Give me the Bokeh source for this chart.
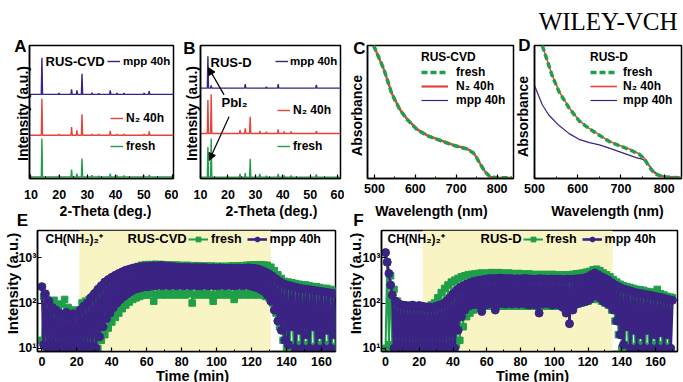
from bokeh.plotting import figure
from bokeh.layouts import row, column
from bokeh.models import (Range1d, FixedTicker, SingleIntervalTicker, Label, Legend, GridBox,
                          LegendItem, Arrow, NormalHead, BoxAnnotation, CustomJSTickFormatter)
from bokeh.embed import file_html
from bokeh.resources import INLINE

FONT = "Liberation Sans"
PURPLE = "#3a2383"
RED = "#e6433a"
GREEN = "#1f9f49"
YELLOW = "#f8f4c3"

# ---------------- XRD patterns (2-theta in degrees, intensity in a.u.) ----------------
peaks_cvd = [13.9, 19.9, 24.4, 26.3, 28.1, 31.6, 34.0, 38.1, 40.5, 43.0, 50.1, 51.9]
cvd_fresh = [115, 3, 22, 10, 55, 5, 3, 10, 4, 4, 3, 6]
cvd_n2 = [110, 4, 25, 15, 63, 4, 4, 13, 4, 4, 4, 12]
cvd_mpp = [110, 4, 15, 12, 62, 5, 3, 12, 4, 4, 4, 10]

peaks_d = [12.7, 13.9, 24.4, 26.3, 28.1, 31.6, 34.0, 38.3, 40.5, 43.0, 52.2]
d_fresh = [90, 115, 10, 12, 55, 10, 4, 10, 5, 5, 8]
d_n2 = [100, 117, 10, 15, 50, 8, 5, 12, 6, 6, 8]
d_mpp = [95, 8, 0, 12, 0, 0, 4, 12, 0, 0, 10]

# ---------------- UV-vis absorbance (wavelength nm, normalised absorbance) ----------------
c_wl = [498, 523, 543, 563, 580, 604, 629, 661, 693, 726, 742, 750, 759, 771, 783, 807, 836]
c_fresh = [1.0, 0.82, 0.63, 0.51, 0.44, 0.366, 0.318, 0.282, 0.246, 0.218, 0.187, 0.151, 0.103, 0.043, 0.007, 0.0, 0.0]
c_n2 = [1.0, 0.82, 0.635, 0.515, 0.445, 0.37, 0.322, 0.285, 0.25, 0.222, 0.19, 0.153, 0.104, 0.044, 0.008, 0.0, 0.0]
c_mpp = [1.0, 0.818, 0.628, 0.508, 0.438, 0.364, 0.316, 0.28, 0.244, 0.216, 0.185, 0.15, 0.102, 0.043, 0.007, 0.0, 0.0]

d_wl = [518, 541, 557, 580, 603, 627, 650, 673, 697, 720, 743, 755, 766, 778, 798, 843]
d_fresh_abs = [1.0, 0.77, 0.649, 0.528, 0.431, 0.37, 0.322, 0.274, 0.242, 0.213, 0.177, 0.14, 0.08, 0.031, 0.007, 0.0]
d_n2_abs = [1.0, 0.775, 0.652, 0.53, 0.435, 0.372, 0.325, 0.276, 0.245, 0.216, 0.18, 0.145, 0.085, 0.034, 0.009, 0.004]
d_mpp_wl = [500, 518, 533, 557, 580, 603, 627, 650, 673, 704, 735, 751, 766, 778, 790, 805, 843]
d_mpp_abs = [0.697, 0.552, 0.475, 0.395, 0.334, 0.291, 0.266, 0.249, 0.225, 0.189, 0.153, 0.14, 0.092, 0.044, 0.019, 0.007, 0.0]

# ---------------- ToF-SIMS CH(NH2)2+ depth profiles (counts vs time, min) ----------------
time_min = list(range(171))
e_fresh = [
    15, 140, 11, 120, 10, 105, 12, 115, 10, 90,
    12, 95, 10, 120, 11, 80, 10, 62, 12, 70,
    10, 65, 12, 100, 10, 110, 12, 120, 10, 140,
    12, 170, 10, 210, 15, 250, 20, 290, 28, 330,
    38, 370, 48, 410, 60, 450, 75, 490, 90, 530,
    105, 560, 120, 600, 130, 640, 140, 680, 150, 700,
    150, 710, 160, 700, 110, 720, 150, 700, 160, 710,
    150, 690, 160, 700, 150, 680, 160, 690, 150, 680,
    160, 670, 150, 680, 160, 670, 100, 660, 150, 670,
    160, 660, 150, 650, 160, 660, 150, 650, 110, 650,
    150, 640, 160, 650, 150, 640, 160, 650, 150, 660,
    120, 650, 160, 660, 150, 670, 160, 680, 150, 690,
    160, 700, 150, 690, 160, 700, 150, 690, 140, 680,
    130, 620, 100, 520, 60, 420, 30, 350, 15, 300,
    10, 290, 12, 280, 10, 270, 12, 260, 10, 250,
    12, 250, 10, 240, 11, 230, 10, 230, 12, 220,
    10, 210, 12, 210, 10, 200, 11, 190, 10, 180,
    170]
e_mpp = [
    230, 12, 160, 10, 110, 14, 80, 10, 70, 12,
    60, 10, 55, 13, 62, 10, 50, 12, 58, 10,
    55, 14, 70, 10, 85, 12, 100, 10, 130, 11,
    160, 10, 200, 18, 240, 30, 290, 45, 330, 60,
    370, 80, 410, 100, 450, 120, 490, 140, 530, 160,
    560, 180, 590, 200, 610, 210, 630, 220, 640, 230,
    650, 230, 660, 240, 670, 240, 660, 250, 680, 240,
    660, 250, 650, 240, 640, 250, 630, 240, 620, 250,
    610, 240, 620, 250, 610, 240, 600, 250, 610, 240,
    600, 240, 610, 250, 600, 240, 590, 250, 600, 240,
    590, 240, 600, 250, 590, 240, 580, 250, 590, 240,
    580, 240, 590, 250, 580, 240, 590, 250, 600, 240,
    590, 230, 580, 220, 560, 200, 520, 180, 480, 150,
    440, 110, 390, 70, 340, 40, 300, 25, 270, 15,
    250, 12, 240, 30, 230, 10, 220, 25, 210, 10,
    205, 20, 200, 10, 195, 30, 190, 10, 185, 20,
    180, 10, 175, 25, 170, 10, 165, 20, 160, 10,
    150]
f_fresh = [
    10, 800, 12, 400, 10, 200, 12, 110, 10, 90,
    12, 88, 10, 85, 12, 90, 10, 85, 12, 88,
    10, 85, 12, 82, 10, 85, 12, 90, 10, 100,
    12, 130, 10, 170, 12, 210, 10, 250, 12, 290,
    10, 320, 12, 350, 15, 380, 30, 400, 50, 420,
    60, 430, 70, 440, 75, 450, 80, 460, 85, 450,
    90, 460, 85, 470, 90, 460, 85, 470, 90, 460,
    85, 450, 90, 460, 85, 450, 90, 440, 85, 450,
    90, 440, 85, 430, 90, 440, 85, 430, 90, 420,
    85, 430, 90, 420, 85, 430, 90, 420, 85, 430,
    90, 420, 85, 410, 90, 420, 85, 410, 90, 420,
    85, 430, 90, 440, 95, 450, 100, 460, 105, 480,
    110, 500, 120, 540, 130, 560, 120, 520, 110, 460,
    100, 420, 90, 380, 70, 330, 40, 290, 20, 260,
    10, 240, 12, 230, 10, 220, 11, 210, 10, 200,
    12, 195, 10, 190, 11, 180, 10, 175, 12, 170,
    10, 200, 12, 160, 10, 150, 11, 140, 10, 135,
    130]
f_mpp = [
    1300, 800, 450, 250, 150, 10, 110, 12, 95, 10,
    90, 12, 88, 10, 85, 11, 90, 10, 85, 12,
    88, 10, 85, 12, 80, 10, 82, 12, 78, 10,
    85, 12, 90, 10, 95, 11, 110, 10, 130, 12,
    160, 10, 190, 25, 220, 50, 240, 70, 260, 85,
    280, 90, 300, 95, 310, 90, 320, 65, 330, 90,
    340, 95, 350, 100, 345, 70, 350, 95, 355, 100,
    350, 95, 345, 100, 350, 95, 340, 100, 345, 95,
    340, 100, 350, 95, 345, 90, 340, 95, 335, 90,
    340, 60, 345, 95, 340, 100, 335, 95, 340, 90,
    335, 95, 340, 90, 335, 80, 330, 60, 340, 35,
    335, 70, 340, 95, 345, 100, 350, 105, 360, 110,
    380, 120, 420, 140, 460, 150, 420, 130, 380, 110,
    350, 100, 320, 90, 280, 70, 250, 40, 230, 20,
    210, 12, 200, 30, 190, 10, 180, 25, 170, 10,
    165, 20, 160, 10, 155, 25, 150, 10, 145, 20,
    140, 10, 135, 22, 130, 10, 125, 20, 120, 10,
    115]
sputter_window_e = (21.5, 131.0)
sputter_window_f = (22.0, 134.5)

# panel letters and axis titles, positioned on a page-sized overlay (pixels)
panel_letters = ["A", "B", "C", "D", "E", "F"]
letter_x = [20, 189, 359, 524, 22, 358]
letter_y = [46, 48, 48, 45, 220, 220]

x_titles = ["2-Theta (deg.)", "2-Theta (deg.)", "Wavelength (nm)", "Wavelength (nm)",
            "Time (min)", "Time (min)"]
x_title_x = [105, 271, 431, 607, 192, 532]
x_title_y = [210, 210, 210, 210, 375, 375]
x_title_size = ["14px", "14px", "14px", "14px", "14.5px", "14.5px"]

y_titles = ["Intensity (a.u.)", "Intensity (a.u.)", "Absorbance", "Absorbance",
            "Intensity (a.u.)", "Intensity (a.u.)"]
y_title_x = [22, 191, 356, 522, 12, 355]
y_title_y = [113, 113, 115, 116, 283, 283]
y_title_size = ["14px", "14px", "14px", "14px", "15px", "15px"]


def stick_pattern(pos, hts, base, lo, hi, half=0.22):
    """Baseline with narrow triangular reflections on top of it."""
    xs, ys = [lo], [base]
    for p, h in sorted(zip(pos, hts)):
        if h <= 0:
            continue
        xs += [p - half, p, p + half]
        ys += [base, base + h, base]
    xs.append(hi)
    ys.append(base)
    return xs, ys


def panel(width, height, left, right, top, bottom, x_range, y_range, y_log=False):
    p = figure(width=width, height=height, x_range=x_range, y_range=y_range,
               y_axis_type="log" if y_log else "linear",
               output_backend="svg", toolbar_location=None,
               min_border_left=left, min_border_right=right,
               min_border_top=top, min_border_bottom=bottom)
    p.xgrid.visible = False
    p.ygrid.visible = False
    p.outline_line_color = "black"
    p.outline_line_width = 1.5
    p.outline_line_alpha = 1
    for ax in (p.xaxis[0], p.yaxis[0]):
        ax.axis_line_width = 1.5
        ax.major_tick_in = 4
        ax.major_tick_out = 0
        ax.minor_tick_in = 2
        ax.minor_tick_out = 0
        ax.major_tick_line_width = 1.2
        ax.major_label_text_font = FONT
        ax.major_label_text_font_style = "bold"
        ax.major_label_text_font_size = "12.5px"
        ax.major_label_text_color = "black"
        ax.major_label_standoff = 3
    return p


def text(p, x, y, s, size="12px", align="left", font=FONT, style="bold", baseline="middle",
         units="screen", angle=0):
    p.add_layout(Label(x=x, y=y, x_units=units, y_units=units, text=s, angle=angle,
                       angle_units="deg",
                       text_font=font, text_font_style=style, text_font_size=size,
                       text_align=align, text_baseline=baseline, text_color="black"))


def legend_box(p, items, loc, glyph_width=13, title=None, orientation="vertical",
               size="12px", standoff=3, spacing=0):
    lg = Legend(items=items, location=loc, orientation=orientation,
                glyph_width=glyph_width, glyph_height=12, label_height=12,
                label_standoff=standoff, spacing=spacing, padding=0, margin=0,
                background_fill_alpha=0, border_line_alpha=0,
                label_text_font=FONT, label_text_font_style="bold",
                label_text_font_size=size, label_text_color="black")
    if title:
        lg.title = title
        lg.title_text_font = FONT
        lg.title_text_font_style = "bold"
        lg.title_text_font_size = size
        lg.title_text_color = "black"
        lg.title_standoff = 1
    p.add_layout(lg)
    return lg


def xrd_panel(width, left, right, xr, yr, peaks, series):
    p = panel(width, 218, left, right, 45, 40, xr, yr)
    p.xaxis.ticker = SingleIntervalTicker(interval=10, num_minor_ticks=2)
    p.yaxis.ticker = FixedTicker(ticks=[])
    p.xaxis.major_label_standoff = 11
    renderers = []
    for hts, base, color in series:
        xs, ys = stick_pattern(peaks, hts, base, xr.start, xr.end)
        renderers.append(p.line(xs, ys, line_color=color, line_width=1.4))
    return p, renderers


# ---------------- Panel A ----------------
xrA = Range1d(9.5, 60.5)
pA, (rA_f, rA_n, rA_m) = xrd_panel(178, 29, 5, xrA, Range1d(0, 400), peaks_cvd,
                                   [(cvd_fresh, 5, GREEN), (cvd_n2, 130, RED), (cvd_mpp, 253, PURPLE)])
text(pA, 16, 117, "RUS-CVD", size="13px")
legend_box(pA, [LegendItem(label="mpp 40h", renderers=[rA_m])], (78, 111), size="11.5px")
legend_box(pA, [LegendItem(label="N₂ 40h", renderers=[rA_n])], (81, 53))
legend_box(pA, [LegendItem(label="fresh", renderers=[rA_f])], (81, 25))

# ---------------- Panel B ----------------
xrB = Range1d(10.0, 61.0)
pB, (rB_f, rB_n, rB_m) = xrd_panel(166, 22, 4, xrB, Range1d(0, 396), peaks_d,
                                   [(d_fresh, 4, GREEN), (d_n2, 134, RED), (d_mpp, 269, PURPLE)])
text(pB, 10, 116, "RUS-D", size="13px")
legend_box(pB, [LegendItem(label="mpp 40h", renderers=[rB_m])], (75, 111), size="11.5px",
           standoff=2)
legend_box(pB, [LegendItem(label="N₂ 40h", renderers=[rB_n])], (77, 61))
legend_box(pB, [LegendItem(label="fresh", renderers=[rB_f])], (77, 25))
text(pB, 21, 76, "PbI₂", size="13px")
for xs_, ys_, xe_, ye_ in [(18.6, 249, 12.9, 330), (20.4, 184, 13.2, 54)]:
    pB.add_layout(Arrow(end=NormalHead(size=7, fill_color="black", line_color="black"),
                        x_start=xs_, y_start=ys_, x_end=xe_, y_end=ye_,
                        line_color="black", line_width=1.2))


# ---------------- Panels C, D ----------------
def abs_panel(width, left, right, xr):
    p = panel(width, 218, left, right, 45, 34, xr, Range1d(-0.005, 1.0))
    p.xaxis.ticker = SingleIntervalTicker(interval=100, num_minor_ticks=2)
    p.yaxis.ticker = FixedTicker(ticks=[])
    p.xaxis.major_label_standoff = 5
    return p


pC = abs_panel(171, 23, 2, Range1d(483, 840))
rC_m = pC.line(c_wl, c_mpp, line_color=PURPLE, line_width=1.2)
rC_n = pC.line(c_wl, c_n2, line_color=RED, line_width=2.2)
rC_f = pC.line(c_wl, c_fresh, line_color=GREEN, line_width=3.5, line_dash="6 3")
legend_box(pC, [LegendItem(label="fresh", renderers=[rC_f]),
                LegendItem(label="N₂ 40h", renderers=[rC_n]),
                LegendItem(label="mpp 40h", renderers=[rC_m])],
           (54, 71), glyph_width=27, title="RUS-CVD", standoff=8)

pD = abs_panel(168, 19, 2, Range1d(500, 840))
rD_m = pD.line(d_mpp_wl, d_mpp_abs, line_color=PURPLE, line_width=1.2)
rD_n = pD.line(d_wl, d_n2_abs, line_color=RED, line_width=1.6)
rD_f = pD.line(d_wl, d_fresh_abs, line_color=GREEN, line_width=3.5, line_dash="6 3")
legend_box(pD, [LegendItem(label="fresh", renderers=[rD_f]),
                LegendItem(label="N₂ 40h", renderers=[rD_n]),
                LegendItem(label="mpp 40h", renderers=[rD_m])],
           (56, 71), glyph_width=27, title="RUS-D", standoff=6)


# ---------------- Panels E, F ----------------
def sims_panel(width, left, right, xr, window):
    p = panel(width, 164, left, right, 12, 31, xr, Range1d(8.5, 4000), y_log=True)
    p.xaxis.ticker = SingleIntervalTicker(interval=20, num_minor_ticks=2)
    p.yaxis.ticker = FixedTicker(ticks=[10, 100, 1000], minor_ticks=[])
    p.yaxis.formatter = CustomJSTickFormatter(
        code="const s = {1: '\u00b9', 2: '\u00b2', 3: '\u00b3'}; "
             "return '10' + s[Math.round(Math.log10(tick))];")
    p.xaxis.major_label_standoff = 5
    p.yaxis.major_label_standoff = 1
    p.add_layout(BoxAnnotation(left=window[0], right=window[1], fill_color=YELLOW,
                               fill_alpha=1, line_alpha=0, level="underlay"))
    return p


def sims_series(p, fresh, mpp):
    gl = p.line(time_min, fresh, line_color=GREEN, line_width=2.0)
    gs = p.scatter(time_min, fresh, marker="square", size=6.5, fill_color=GREEN, line_color=GREEN)
    pl = p.line(time_min, mpp, line_color=PURPLE, line_width=2.6)
    ps = p.scatter(time_min, mpp, marker="circle", size=8, fill_color=PURPLE, line_color=PURPLE)
    return [gl, gs], [pl, ps]


pE = sims_panel(340, 37, 5, Range1d(-2.5, 168), sputter_window_e)
gE, mE = sims_series(pE, e_fresh, e_mpp)
text(pE, 8, 113, "CH(NH₂)₂⁺", size="12px")
text(pE, 90, 113, "RUS-CVD", size="13px")
legend_box(pE, [LegendItem(label="fresh", renderers=gE), LegendItem(label="mpp 40h", renderers=mE)],
           (151, 105), glyph_width=20, orientation="horizontal", size="12.5px", spacing=5)

pF = sims_panel(343, 41, 6, Range1d(-2.4, 173), sputter_window_f)
gF, mF = sims_series(pF, f_fresh, f_mpp)
text(pF, 6, 113, "CH(NH₂)₂⁺", size="12px")
text(pF, 99, 113, "RUS-D", size="13px")
legend_box(pF, [LegendItem(label="fresh", renderers=gF), LegendItem(label="mpp 40h", renderers=mF)],
           (142, 105), glyph_width=20, orientation="horizontal", size="12.5px", spacing=5)

# ---------------- page overlay: panel letters, axis titles, journal mark ----------------
overlay = figure(width=683, height=382, x_range=Range1d(0, 683), y_range=Range1d(382, 0),
                 x_axis_location=None, y_axis_location=None, toolbar_location=None,
                 output_backend="svg", min_border=0)
overlay.xgrid.visible = False
overlay.ygrid.visible = False
overlay.outline_line_color = None
overlay.background_fill_color = None
overlay.border_fill_color = None
for s, x, y in zip(panel_letters, letter_x, letter_y):
    text(overlay, x, y, s, size="17px", align="center", units="data")
for s, x, y, fs in zip(x_titles, x_title_x, x_title_y, x_title_size):
    text(overlay, x, y, s, size=fs, align="center", units="data")
for s, x, y, fs in zip(y_titles, y_title_x, y_title_y, y_title_size):
    text(overlay, x, y, s, size=fs, align="center", units="data", angle=90)
text(overlay, 677, 21, "WILEY-VCH", size="25px", align="right", font="Liberation Serif",
     style="normal", baseline="alphabetic", units="data")

charts = column(row(pA, pB, pC, pD), row(pE, pF))
layout = GridBox(children=[(charts, 0, 0), (overlay, 0, 0)])
open("out.html", "w").write(file_html(layout, INLINE))
